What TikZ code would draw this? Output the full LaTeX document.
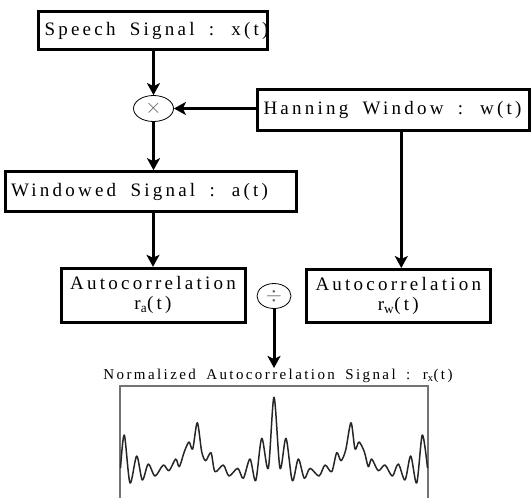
\documentclass[tikz,border=0pt]{standalone}
\usepackage{fontspec}
\setmainfont{Liberation Serif}
\newfontfamily\boxfont[LetterSpace=17,WordSpace=1.8]{Liberation Serif}
\newfontfamily\lblfont[LetterSpace=16,WordSpace=1.7]{Liberation Serif}
\usetikzlibrary{arrows.meta,calc,shapes.geometric}
\newcommand\lbox[2]{\makebox[#1][l]{#2}}
\begin{document}
\begin{tikzpicture}[x=1pt,y=-1pt,
  box/.style={draw, line width=3pt, inner ysep=0pt, inner xsep=6pt,
              font=\boxfont\fontsize{19}{21}\selectfont},
  cbox/.style={draw, line width=3pt, inner sep=0pt, align=center,
              font=\boxfont\fontsize{19}{20}\selectfont},
  op/.style={draw, ellipse, line width=0.8pt, inner sep=0pt, text=black!60},
  arr/.style={line width=3pt, -{Stealth[length=12pt,width=13pt,inset=3pt]}},
  frame/.style={draw=black!55, line width=1.2pt},
  sig/.style={line width=1.5pt, black!85, line join=round}]
\useasboundingbox (0,0) rectangle (532,498);

\node[box, minimum height=38pt] (speech) at (153,30.5) {\lbox{217pt}{Speech Signal : x(t)}};
\node[op, minimum width=40pt, minimum height=26pt] (mult) at (153.5,108.5) {\fontsize{22}{22}\selectfont$\times$};
\node[box, minimum height=41pt] (hann) at (393.5,110) {\lbox{260pt}{Hanning Window : w(t)}};
\node[box, minimum height=40pt] (wind) at (150.5,191.7) {\lbox{279pt}{Windowed Signal : a(t)}};
\node[cbox, minimum width=184pt, minimum height=54pt] (autoa) at (153,295.3) {Autocorrelation\\r\textsubscript{a}(t)};
\node[cbox, minimum width=184pt, minimum height=53pt] (autow) at (398.3,296) {Autocorrelation\\r\textsubscript{w}(t)};
\node[op, minimum width=34pt, minimum height=25pt] (div) at (274,296) {\fontsize{20}{20}\selectfont$\div$};
\node[font=\lblfont\fontsize{15}{16}\selectfont, inner sep=1pt] (lbl) at (278,376) {Normalized Autocorrelation Signal : r\textsubscript{x}(t)};

\draw[arr] (speech.south -| mult.north) -- (mult.north);
\draw[arr] (hann.west |- mult.east) -- (mult.east);
\draw[arr] (mult.south) -- (mult.south |- wind.north);
\draw[arr] (wind.south -| autoa.north) -- (autoa.north);
\draw[arr] ($(autow.north |- hann.south)+(3,0)$) -- ($(autow.north)+(3,0)$);
\draw[arr] (div.south) -- (div.south |- lbl.north);

\coordinate (fbl) at (120,498);
\coordinate (ftl) at (120,386);
\coordinate (ftr) at (428,386);
\coordinate (fbr) at (428,498);
\draw[frame] (fbl) -- (ftl) -- (ftr) -- (fbr);

\draw[sig] plot[smooth, tension=0.5] coordinates {
(120.5,468) (124.3,435) (130,483) (136.7,456) (142.3,480) (148.3,464) (155,476)
(163.3,465) (169,470.7) (175.7,459) (179.3,466.7) (184.3,451.7) (189,442) (192.7,449)
(197.3,422.7) (201.7,451.7) (205.7,460.7) (211,452.7) (215,471.7) (223.3,465) (229,476)
(237.7,468.3) (243.3,478.3) (250,459) (255.7,480.7) (261.7,438.3) (268.3,468.3) (274,397.3)
(280,468.3) (286,438.3) (292.3,480.7) (298.3,459) (304.3,478.3) (310,468.3) (319,476)
(325,465) (331.7,471.7) (336.7,452.7) (341,460.7) (345.7,450) (351,422.7) (355,449)
(359,442) (364.3,451.7) (368.3,466.7) (371.7,459) (378.3,470.7) (385,465) (392.3,476)
(398.3,464) (405,480) (410.7,456) (416.7,483) (422.3,435) (427.5,468)};
\end{tikzpicture}
\end{document}
